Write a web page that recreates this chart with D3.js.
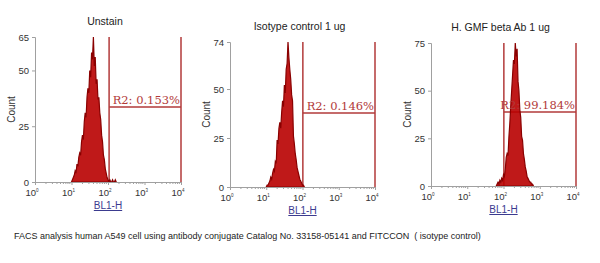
<!DOCTYPE html>
<html>
<head>
<meta charset="utf-8">
<script src="https://cdn.jsdelivr.net/npm/d3@7"></script>
<style>
  body { margin: 0; background: #fff; }
  svg { display: block; font-family: "Liberation Sans", Arial, sans-serif; }
</style>
</head>
<body>
<svg id="root" width="600" height="263"></svg>
<script>
// FACS histograms, three panels side by side

const titles = ["Unstain", "Isotype control 1 ug", "H. GMF beta Ab 1 ug"];
const yMaxes = [65, 74, 75];
const yTicks = [[0, 25, 50, 65], [0, 25, 50, 74], [0, 25, 50, 75]];
const xDecades = [0, 1, 2, 3, 4];
const binWidth = 0.025; // log10 units per bin
const histStarts = [1.0, 1.0, 1.8];

const unstainCounts = [0, 1, 2, 3, 5, 4, 8, 7, 11, 13, 12, 18, 21, 19, 27, 31, 29, 38, 42, 40,
  50, 47, 58, 55, 65, 52, 56, 44, 46, 37, 38, 31, 28, 21, 18, 12, 10, 6, 4, 2, 1, 0, 1, 0, 0, 1, 0, 0, 1, 0];
const isotypeCounts = [0, 1, 1, 2, 3, 5, 4, 7, 9, 8, 13, 12, 24, 22, 30, 33, 30, 38, 44, 41,
  52, 48, 60, 63, 74, 66, 60, 55, 47, 44, 26, 22, 17, 14, 10, 8, 6, 4, 3, 2, 1, 1, 0];
const gmfCounts = [0, 1, 2, 1, 3, 2, 4, 3, 6, 5, 9, 15, 17, 16, 26, 33, 42, 50, 58, 66,
  64, 75, 68, 72, 55, 50, 40, 36, 26, 24, 17, 14, 10, 8, 5, 4, 3, 2, 2, 1, 1, 0];
const histograms = [unstainCounts, isotypeCounts, gmfCounts];

// gate R2: from gateLow (log10) to the top of the scale, at gateLevel counts
const gateLow = [2.03, 2.01, 2.01];
const gateHigh = [4, 4, 4];
const gateLevel = [33.6, 37.8, 38.8];
const r2Labels = ["R2: 0.153%", "R2: 0.146%", "R2: 99.184%"];

const xLabel = "BL1-H";
const yLabel = "Count";
const caption = "FACS analysis human A549 cell using antibody conjugate Catalog No. 33158-05141 and FITCCON  ( isotype control)";

// panel frames (pixels)
const frames = [
  { left: 35, right: 181, top: 37, bottom: 182 },
  { left: 230, right: 375, top: 42, bottom: 187 },
  { left: 431, right: 576, top: 43, bottom: 186 }
];

const svg = d3.select("#root");
const red = "#b80000";
const gateColor = "#b23a3a";
const axisColor = "#a0a0a0";

frames.forEach((f, i) => {
  const g = svg.append("g");
  const xScale = d3.scaleLinear([0, 4], [f.left, f.right]);
  const yScale = d3.scaleLinear([0, yMaxes[i]], [f.bottom, f.top]);

  // title
  g.append("text")
    .attr("x", (f.left + f.right) / 2 - 3)
    .attr("y", f.top - 12)
    .attr("text-anchor", "middle")
    .attr("font-size", 10.5)
    .attr("fill", "#222")
    .text(titles[i]);

  // gate
  g.append("line")
    .attr("x1", xScale(gateLow[i])).attr("x2", xScale(gateLow[i]))
    .attr("y1", yScale(yMaxes[i])).attr("y2", yScale(0))
    .attr("stroke", gateColor).attr("stroke-width", 1.5);
  g.append("line")
    .attr("x1", xScale(gateHigh[i])).attr("x2", xScale(gateHigh[i]))
    .attr("y1", yScale(yMaxes[i])).attr("y2", yScale(0))
    .attr("stroke", gateColor).attr("stroke-width", 1.5);
  g.append("line")
    .attr("x1", xScale(gateLow[i])).attr("x2", xScale(gateHigh[i]))
    .attr("y1", yScale(gateLevel[i])).attr("y2", yScale(gateLevel[i]))
    .attr("stroke", gateColor).attr("stroke-width", 1.5);

  // histogram
  const pts = histograms[i].map((c, k) => [histStarts[i] + k * binWidth, c]);
  const peak = pts.reduce((a, b) => (b[1] > a[1] ? b : a));
  g.append("line")
    .attr("x1", xScale(peak[0])).attr("x2", xScale(peak[0]))
    .attr("y1", yScale(yMaxes[i])).attr("y2", yScale(peak[1]))
    .attr("stroke", "#999").attr("stroke-width", 1);
  const area = d3.area()
    .x((d) => xScale(d[0]))
    .y0(yScale(0))
    .y1((d) => yScale(d[1]));
  g.append("path")
    .datum(pts)
    .attr("d", area)
    .attr("fill", red)
    .attr("fill-opacity", 0.9)
    .attr("stroke", "#8a0000")
    .attr("stroke-width", 1.2);

  // axes
  const yAxis = d3.axisLeft(yScale).tickValues(yTicks[i]).tickSize(3).tickPadding(3);
  const ya = g.append("g").attr("transform", `translate(${f.left},0)`).call(yAxis);
  const xa = g.append("g").attr("transform", `translate(0,${f.bottom})`)
    .call(d3.axisBottom(xScale).tickValues(xDecades).tickSize(3).tickFormat(""));
  // minor ticks
  const minors = [];
  xDecades.slice(0, -1).forEach((d) => {
    for (let m = 2; m < 10; m++) minors.push(d + Math.log10(m));
  });
  xa.selectAll(".minor").data(minors).join("line")
    .attr("class", "minor")
    .attr("x1", (d) => xScale(d)).attr("x2", (d) => xScale(d))
    .attr("y1", 0).attr("y2", 2)
    .attr("stroke", axisColor);
  [ya, xa].forEach((a) => {
    a.select(".domain").attr("stroke", axisColor);
    a.selectAll(".tick line").attr("stroke", axisColor);
    a.selectAll("text").attr("fill", "#333").attr("font-size", 9.5)
      .attr("font-family", "Liberation Sans, Arial, sans-serif");
  });

  // decade labels 10^n
  const lbl = g.selectAll(".dec").data(xDecades).join("text")
    .attr("class", "dec")
    .attr("x", (d) => xScale(d) - 3)
    .attr("y", f.bottom + 14)
    .attr("text-anchor", "middle")
    .attr("font-size", 9.5)
    .attr("fill", "#333");
  lbl.append("tspan").text("10");
  lbl.append("tspan").attr("dy", -4).attr("font-size", 4.5).text((d) => d);

  // axis titles
  g.append("text")
    .attr("x", (f.left + f.right) / 2)
    .attr("y", f.bottom + 27)
    .attr("text-anchor", "middle")
    .attr("font-size", 10)
    .attr("fill", "#3b3b8f")
    .attr("text-decoration", "underline")
    .text(xLabel);
  g.append("text")
    .attr("transform", `translate(${f.left - 20},${(f.top + f.bottom) / 2}) rotate(-90)`)
    .attr("text-anchor", "middle")
    .attr("font-size", 10)
    .attr("fill", "#333")
    .text(yLabel);

  // R2 label
  g.append("text")
    .attr("x", xScale(gateHigh[i]) - 1)
    .attr("y", yScale(gateLevel[i]) - 3)
    .attr("text-anchor", "end")
    .attr("font-family", "DejaVu Serif, serif")
    .attr("font-size", 11.5)
    .attr("fill", gateColor)
    .text(r2Labels[i]);
});

svg.append("text")
  .attr("x", 14)
  .attr("y", 239)
  .attr("font-size", 9)
  .attr("fill", "#222")
  .style("white-space", "pre")
  .text(caption);
</script>
</body>
</html>
